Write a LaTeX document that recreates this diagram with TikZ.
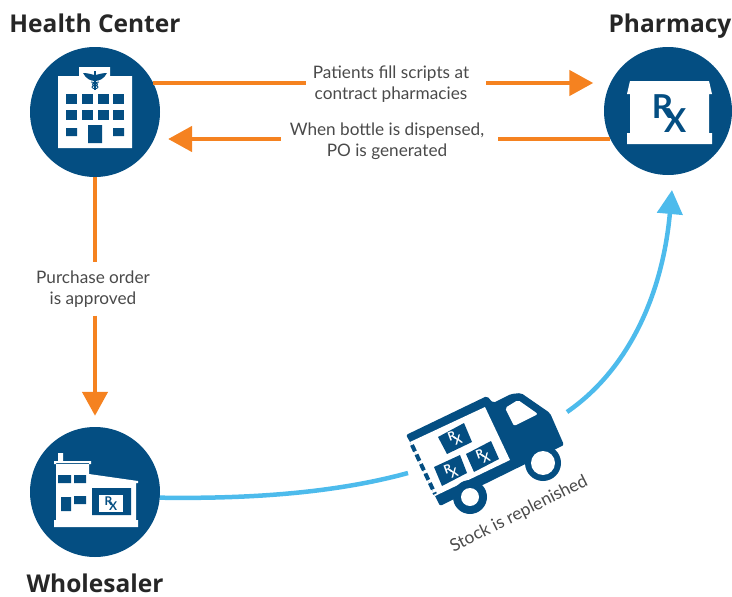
\documentclass[tikz,border=0pt]{standalone}
\usepackage{fontspec}
\setmainfont{Lato}
\newfontfamily\headfont{Open Sans}
\usetikzlibrary{arrows.meta}
\definecolor{navy}{HTML}{044E82}
\definecolor{amber}{HTML}{F58220}
\definecolor{sky}{HTML}{4DBBEC}
\definecolor{labelgray}{HTML}{4A4A4A}
\newcommand{\rxtext}{R\kern-0.27em\raisebox{-0.42em}{X}}

\begin{document}
\begin{tikzpicture} [
    x=1pt, y=-1pt,
    every node/.style = {inner sep=0pt},
    site/.style = {circle, fill=navy, minimum size=130pt},
    title/.style = {font=\headfont\bfseries\fontsize{24.5}{28}\selectfont, text=black!85, anchor=base},
    caption/.style = {font=\fontsize{17.2}{21}\selectfont, text=labelgray, align=center, inner xsep=7pt, inner ysep=8pt},
    rxmark/.style = {font=\bfseries\fontsize{#1}{#1}\selectfont},
    supply/.style = {line width=4.5pt, color=amber},
    tip/.style = {-{Triangle[length=24pt,width=25pt]}},
    stock/.style = {line width=4.5pt, color=sky},
    white part/.style = {fill=white},
    navy part/.style = {fill=navy}
]
    \useasboundingbox (0,0) rectangle (732,597);

    \node [site] (health) at (95,112) {};
    \node [site, minimum size=128pt] (pharmacy) at (668,111) {};
    \node [site] (wholesaler) at (95,492) {};

    \node [title] (healthname) at (95,32) {Health Center};
    \node [title] (pharmacyname) at (670,32) {Pharmacy};
    \node [title] (wholesalername) at (95,592) {Wholesaler};

    \node [caption] (scripts) at (391,84) {Patients fill scripts at\\contract pharmacies};
    \node [caption, inner xsep=9pt] (dispensed) at (387,141) {When bottle is dispensed,\\PO is generated};
    \node [caption] (approved) at (93,289) {Purchase order\\ is approved};
    \node [rotate=26.5, text=labelgray, font=\fontsize{17.4}{21}\selectfont] (replenished) at (519,514) {Stock is replenished};

    % connectors
    \coordinate (outline) at (0,83);
    \coordinate (backline) at (0,139);
    \draw [supply] (health.27 |- outline) -- (scripts.west |- outline);
    \draw [supply, tip, shorten >=17pt, shorten <=10pt] (scripts.east |- outline) -- (pharmacy.154 |- outline);
    \draw [supply, shorten >=5pt] (pharmacy.206 |- backline) -- (dispensed.east |- backline);
    \draw [supply, tip, shorten >=15pt] (dispensed.west |- backline) -- (health.-27 |- backline);
    \draw [supply] (health.south) -- (health.south |- approved.north);
    \draw [supply, tip, shorten >=11pt] (wholesaler.north |- approved.south) -- (wholesaler.north);

    \coordinate (truckrear) at (408,473);
    \coordinate (truckfront) at (567,412);
    \coordinate (pharmacytip) at (672,190);
    \draw [stock] (wholesaler.-5) .. controls (250,499) and (335,493) .. (truckrear);
    \draw [stock, tip] (truckfront) .. controls (625,372) and (662,300) .. (pharmacytip);

    % health center
    \fill [white part] (79,67) rectangle (110,77) (58,76) rectangle (132,148);
    \foreach \col in {66,82,98,113} {
        \foreach \row in {94,110} {
            \fill [navy part] (\col,\row) rectangle ++(10.5,10);
        }
    }
    \fill [navy part] (66,128) rectangle (77,136) (113,128) rectangle (124,136) (88,125) rectangle (102,143);
    \fill [navy part] (83,73) .. controls (89,73) and (93,75) .. (95,75) .. controls (97,75) and (101,73) .. (107,73) .. controls (104,79) and (99,81) .. (95,81) .. controls (91,81) and (86,79) .. (83,73) -- cycle;
    \fill [navy part] (94.2,71) rectangle (95.8,90);
    \draw [navy, line width=0.9pt] (91,82) .. controls (99,83) and (99,85) .. (95,85.5) .. controls (91,86) and (91,88) .. (95,89) (99,82) .. controls (91,83) and (91,85) .. (95,85.5) .. controls (99,86) and (99,88) .. (95,89);

    % pharmacy
    \fill [white part] (630,81) -- (709,81) -- (712,94) -- (709,94) -- (709,133) -- (712,133) -- (712,144)
        -- (627,144) -- (627,133) -- (630,133) -- (630,94) -- (627,94) -- cycle;
    \node [rxmark=33, text=navy] (pharmacyrx) at (669,114) {\rxtext};

    % wholesaler
    \fill [white part] (58,453) rectangle (63,461) (54,461) rectangle (91,464)
        (56,463) -- (89,463) -- (89,474) -- (138,481) -- (138,483) -- (136,483) -- (136,520) -- (138,520) -- (138,527) -- (54,527) -- (54,520) -- (56,520) -- cycle;
    \fill [navy part] (58,475) rectangle (71,483) (74,475) rectangle (86,483) (61,497) rectangle (71,511) (74,496) rectangle (86,504) (92,488) rectangle (131,515);
    \fill [white part] (99,495) rectangle (123,512);
    \node [rxmark=12, text=navy] (wholesalerrx) at (111,504) {\rxtext};

    % truck
    \fill [navy part, rounded corners=2pt] (406,435) -- (487,396) -- (493,403) -- (511,394) -- (521,393) -- (550,413) -- (564,445) -- (440,506) -- (435,496) -- (410,442) -- cycle;
    \fill [white part] (410,442) -- (485,407) -- (510,460) -- (435,496) -- cycle;
    \fill [white part, rounded corners=2pt] (505,408) -- (518,400) -- (538,414) -- (514,426) -- cycle;
    \draw [navy, line width=4pt, dash pattern=on 7pt off 3.5pt] (412,445) -- (435,494);
    \fill [navy part] (438,437) -- (464,423) -- (472,442) -- (447,454) -- cycle
        (434,467) -- (460,455) -- (467,473) -- (442,486) -- cycle
        (466,454) -- (491,441) -- (499,459) -- (474,472) -- cycle;
    \node [rxmark=12, rotate=20, text=white] (boxrxa) at (455,438) {\rxtext};
    \node [rxmark=12, rotate=20, text=white] (boxrxb) at (451,471) {\rxtext};
    \node [rxmark=12, rotate=20, text=white] (boxrxc) at (483,456) {\rxtext};
    \fill [navy part] (470,497) circle (17pt) (543,463) circle (18pt);
    \fill [white part] (470,497) circle (9pt) (543,463) circle (12pt);
\end{tikzpicture}
\end{document}
